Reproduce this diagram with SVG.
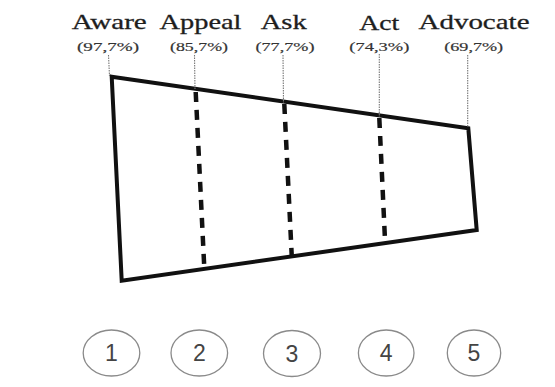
<svg xmlns="http://www.w3.org/2000/svg" width="555" height="387" viewBox="0 0 555 387">
  <style>
    .label { font-family: "Liberation Serif", "Times New Roman", serif; font-size: 22px; fill: #1e1e1e; stroke: #1e1e1e; stroke-width: 0.3; text-anchor: middle; }
    .pct { font-family: "Liberation Serif", "Times New Roman", serif; font-size: 13.5px; fill: #333; stroke: #333; stroke-width: 0.2; text-anchor: middle; }
    .num { font-family: "Liberation Sans", Arial, sans-serif; font-size: 23px; fill: #444; text-anchor: middle; dominant-baseline: central; }
    .ring { fill: none; stroke: #8a8a8a; stroke-width: 1.3; }
    .outline { fill: none; stroke: #111; stroke-width: 4; stroke-linejoin: miter; }
    .divider { stroke: #111; stroke-width: 4.5; stroke-dasharray: 10 8; }
    .leader { stroke: #777; stroke-width: 1.1; stroke-dasharray: 1.5 1; }
  </style>
  <rect width="555" height="387" fill="#fff"/>

  <!-- funnel body -->
  <g id="funnel">
    <polygon class="outline" points="111.7,76.7 468.3,128.3 476.7,230 121.7,280.7"/>
  </g>

  <!-- stage dividers and leader lines -->
  <g id="connectors">
    <line class="divider" x1="195.7" y1="92" x2="204.3" y2="268"/>
    <line class="divider" x1="284.3" y1="104" x2="291.7" y2="255"/>
    <line class="divider" x1="379.3" y1="118" x2="385" y2="240"/>
    <line class="leader" x1="108.5" y1="55" x2="109.5" y2="76"/>
    <line class="leader" x1="194.5" y1="55" x2="195" y2="90"/>
    <line class="leader" x1="283" y1="55" x2="283.5" y2="103"/>
    <line class="leader" x1="379.3" y1="54" x2="379.3" y2="117"/>
    <line class="leader" x1="467.7" y1="55" x2="467.7" y2="127"/>
  </g>

  <!-- stage labels -->
  <g id="stage-aware">
    <text class="label" x="109.3" y="28.5" textLength="75" lengthAdjust="spacingAndGlyphs">Aware</text>
    <text class="pct" x="108" y="50.5" textLength="62" lengthAdjust="spacingAndGlyphs">(97,7%)</text>
  </g>
  <g id="stage-appeal">
    <text class="label" x="200.5" y="28.5" textLength="82" lengthAdjust="spacingAndGlyphs">Appeal</text>
    <text class="pct" x="199" y="50.5" textLength="58" lengthAdjust="spacingAndGlyphs">(85,7%)</text>
  </g>
  <g id="stage-ask">
    <text class="label" x="283.7" y="28.5" textLength="46" lengthAdjust="spacingAndGlyphs">Ask</text>
    <text class="pct" x="285" y="50.5" textLength="59" lengthAdjust="spacingAndGlyphs">(77,7%)</text>
  </g>
  <g id="stage-act">
    <text class="label" x="379.3" y="29.5" textLength="40" lengthAdjust="spacingAndGlyphs">Act</text>
    <text class="pct" x="379.3" y="50.5" textLength="60" lengthAdjust="spacingAndGlyphs">(74,3%)</text>
  </g>
  <g id="stage-advocate">
    <text class="label" x="474" y="29" textLength="111" lengthAdjust="spacingAndGlyphs">Advocate</text>
    <text class="pct" x="473.7" y="50.5" textLength="59" lengthAdjust="spacingAndGlyphs">(69,7%)</text>
  </g>

  <!-- numbered markers -->
  <g id="marker-1">
    <ellipse class="ring" cx="111.5" cy="353" rx="28.3" ry="23"/>
    <text class="num" x="111.5" y="353">1</text>
  </g>
  <g id="marker-2">
    <ellipse class="ring" cx="199.3" cy="353" rx="28.3" ry="23"/>
    <text class="num" x="199.3" y="353">2</text>
  </g>
  <g id="marker-3">
    <ellipse class="ring" cx="292" cy="353.5" rx="28.5" ry="23"/>
    <text class="num" x="292" y="353.5">3</text>
  </g>
  <g id="marker-4">
    <ellipse class="ring" cx="386.2" cy="353" rx="27.8" ry="23"/>
    <text class="num" x="386.2" y="353">4</text>
  </g>
  <g id="marker-5">
    <ellipse class="ring" cx="474" cy="353" rx="26.7" ry="23"/>
    <text class="num" x="474" y="353">5</text>
  </g>
</svg>
